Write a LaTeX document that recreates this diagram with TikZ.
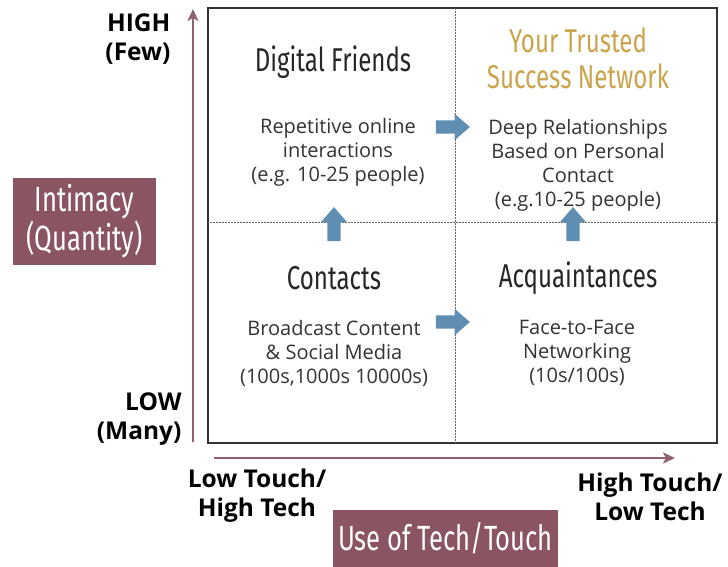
\documentclass[tikz,border=0pt]{standalone}
\usepackage{fontspec}
\setmainfont{Open Sans}
\newfontfamily\narrowfont[FakeStretch=0.73]{Fira Sans}
\usetikzlibrary{shapes.arrows,arrows.meta}
\definecolor{mauve}{RGB}{139,84,98}
\definecolor{axisline}{RGB}{145,98,110}
\definecolor{gold}{RGB}{201,164,76}
\definecolor{arrowblue}{RGB}{96,142,178}
\begin{document}
\begin{tikzpicture}[x=1pt,y=-1pt,
  body/.style={align=center,text=black!80,font=\fontsize{20}{24}\selectfont},
  head/.style={text=black!85,font=\narrowfont\fontsize{33}{36}\selectfont},
  tag/.style={fill=mauve,text=white,align=center,inner sep=0pt,font=\narrowfont\fontsize{35}{39}\selectfont},
  axislabel/.style={font=\bfseries\fontsize{24.5}{29}\selectfont},
  axis/.style={axisline,line width=2.6pt,-{Stealth[length=12pt,width=11pt,inset=3pt]}},
  blockarrow/.style={single arrow,fill=arrowblue,inner sep=0pt,inner ysep=6.5pt,minimum height=34pt,single arrow head extend=6.5pt,single arrow tip angle=82}]
\useasboundingbox (0,0) rectangle (728,567);
% axes
\coordinate (y0) at (193,442); \coordinate (y1) at (193,9);
\coordinate (x0) at (214,458); \coordinate (x1) at (675,458);
\draw[axis] (y0)--(y1);
\draw[axis] (x0)--(x1);
% grid
\draw[black!80,line width=1.3pt] (208,8) rectangle (717,443);
\draw[black!60,densely dotted,line width=.5pt] (455,8)--(455,443) (208,222)--(717,222);
% axis labels
\node[axislabel,align=right,anchor=east] (high) at (174,39) {HIGH\\(Few)};
\node[axislabel,align=right,anchor=east] (low) at (185,419) {LOW\\(Many)};
\node[axislabel,align=center] (lowtouch) at (257,496) {Low Touch/\\High Tech};
\node[axislabel,align=center] (hightouch) at (650,497) {High Touch/\\Low Tech};
\node[tag,minimum width=143pt,minimum height=87pt] (intimacy) at (84.5,221.5) {Intimacy\\(Quantity)};
\node[tag,minimum width=225pt,minimum height=57pt] (usetech) at (445.5,538.5) {Use of Tech/Touch};
% quadrants
\node[head] (digital) at (333,62) {Digital Friends};
\node[body] (repetitive) at (338,152) {Repetitive online\\interactions\\(e.g. 10-25 people)};
\node[head,text=gold,align=center] (trusted) at (578,58) {Your Trusted\\Success Network};
\node[body] (deep) at (578,165) {Deep Relationships\\Based on Personal\\Contact\\(e.g.10-25 people)};
\node[head] (contacts) at (334,278) {Contacts};
\node[body] (broadcast) at (334,353) {Broadcast Content\\\& Social Media\\(100s,1000s 10000s)};
\node[head] (acquaint) at (578,278) {Acquaintances};
\node[body] (face) at (577,353) {Face-to-Face\\Networking\\(10s/100s)};
% block arrows
\foreach \n/\p/\r in {ar1/{(449,127)}/0,ar2/{(449,322)}/0,ar3/{(334,228)}/90,ar4/{(573,228)}/90}
  \node[blockarrow,rotate=\r] (\n) at \p {};
\end{tikzpicture}
\end{document}
